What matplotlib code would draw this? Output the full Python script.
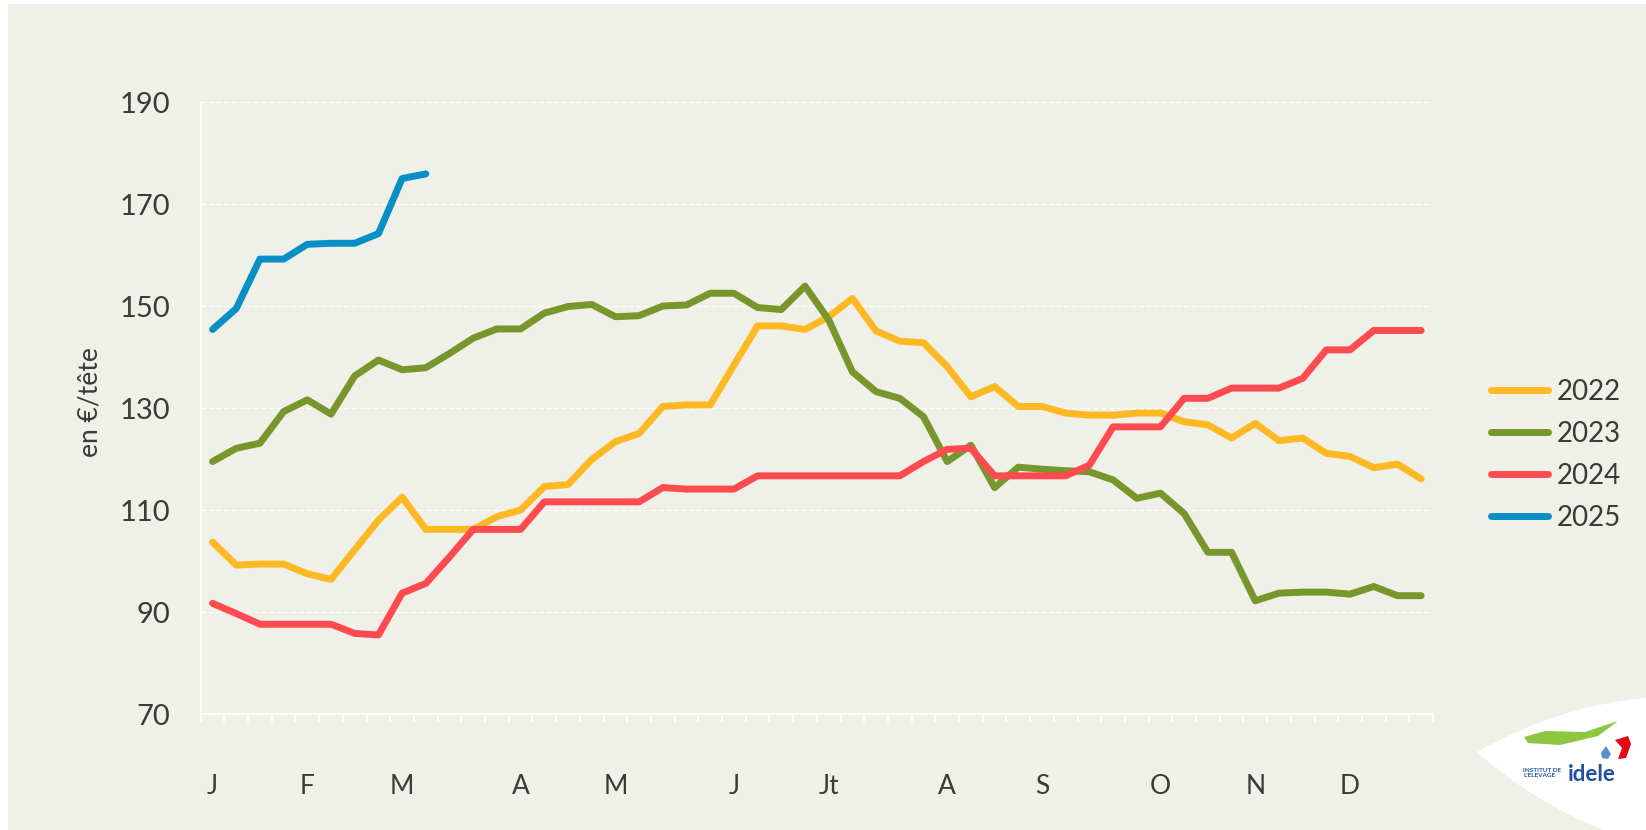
import matplotlib.pyplot as plt
from matplotlib.patches import Rectangle, PathPatch, Polygon
from matplotlib.path import Path

# weekly prices, en €/tête (52 weeks)
weeks = list(range(52))
y2022 = [103.7, 99.2, 99.4, 99.4, 97.5, 96.4, 102.2, 108.0, 112.5, 106.2,
         106.2, 106.2, 108.7, 110.0, 114.6, 115.0, 119.9, 123.4, 125.0, 130.3,
         130.6, 130.6, 138.4, 146.1, 146.1, 145.4, 147.9, 151.5, 145.1, 143.1,
         142.8, 138.1, 132.2, 134.2, 130.3, 130.3, 129.0, 128.6, 128.6, 129.0,
         129.0, 127.3, 126.7, 124.1, 127.0, 123.6, 124.1, 121.1, 120.5, 118.3,
         119.0, 116.1]
y2023 = [119.5, 122.1, 123.1, 129.3, 131.6, 128.8, 136.3, 139.4, 137.5, 137.9,
         140.7, 143.7, 145.5, 145.5, 148.6, 149.9, 150.3, 147.9, 148.1, 150.0,
         150.2, 152.5, 152.5, 149.7, 149.3, 153.9, 147.3, 137.1, 133.2, 131.9,
         128.3, 119.5, 122.7, 114.4, 118.4, 118.0, 117.7, 117.5, 115.9, 112.3,
         113.3, 109.3, 101.7, 101.7, 92.2, 93.7, 93.9, 93.9, 93.5, 95.0,
         93.2, 93.2]
y2024 = [91.7, 89.7, 87.6, 87.6, 87.6, 87.6, 85.8, 85.5, 93.7, 95.6,
         100.8, 106.2, 106.2, 106.2, 111.6, 111.6, 111.6, 111.6, 111.6, 114.4,
         114.1, 114.1, 114.1, 116.7, 116.7, 116.7, 116.7, 116.7, 116.7, 116.7,
         119.5, 121.9, 122.1, 116.7, 116.7, 116.7, 116.7, 118.8, 126.3, 126.3,
         126.3, 131.9, 131.9, 133.9, 133.9, 133.9, 135.8, 141.4, 141.4, 145.2,
         145.2, 145.2]
y2025 = [145.4, 149.5, 159.2, 159.2, 162.1, 162.3, 162.3, 164.2, 175.0, 175.9]

series = ["2022", "2023", "2024", "2025"]
colors = ["#FDB924", "#77962B", "#FF4B4F", "#078FC6"]

month_pos = [0, 4, 8, 13, 17, 22, 26, 31, 35, 40, 44, 48]
month_labels = ["J", "F", "M", "A", "M", "J", "Jt", "A", "S", "O", "N", "D"]
y_ticks = [70, 90, 110, 130, 150, 170, 190]

plt.rcParams["font.family"] = ["Lato", "DejaVu Sans"]
bg = "#EFF0E7"
txt = "#3A3A3A"

fig = plt.figure(figsize=(16.46, 8.30), dpi=100, facecolor="white")
fig.patches.append(Rectangle((8 / 1646, 0), 1, 1 - 4 / 830, transform=fig.transFigure,
                             facecolor=bg, edgecolor="none", zorder=-10))

ax = fig.add_axes([200.7 / 1646, 1 - 714 / 830, (1433 - 200.7) / 1646, 612 / 830])
ax.set_facecolor("none")

for vals, name, col in zip([y2022, y2023, y2024, y2025], series, colors):
    ax.plot(weeks[:len(vals)], vals, color=col, lw=5, label=name,
            solid_capstyle="round", solid_joinstyle="round", zorder=3)

ax.set_xlim(-0.5, 51.5)
ax.set_ylim(70, 190)
ax.set_yticks(y_ticks)
ax.tick_params(axis="y", length=0, pad=22, labelsize=21, labelcolor=txt)

ax.set_xticks(month_pos)
ax.set_xticklabels(month_labels)
ax.set_xticks([k - 0.5 for k in range(53)], minor=True)
ax.tick_params(axis="x", which="major", length=0, pad=43, labelsize=19, labelcolor=txt)
ax.tick_params(axis="x", which="minor", length=6, width=1.3, color="white")

for v in y_ticks[1:]:
    ax.axhline(v, color="white", lw=0.9, ls=(0, (4, 2)), zorder=1)

for s in ["top", "right"]:
    ax.spines[s].set_visible(False)
for s in ["left", "bottom"]:
    ax.spines[s].set_color("white")
    ax.spines[s].set_linewidth(1.3)

ax.set_ylabel("en €/tête", fontsize=19, color=txt)
ax.yaxis.set_label_coords(-0.080, 0.51)

ax.legend(loc="center left", bbox_to_anchor=(1491 / 1646, 1 - 455 / 830),
          bbox_transform=fig.transFigure, frameon=False, fontsize=20,
          handlelength=2.05, handletextpad=0.3, labelspacing=0.58,
          borderpad=0, borderaxespad=0, labelcolor=txt)


# logo (bottom right)
def fx(x):
    return x / 1646


def fy(y):
    return 1 - y / 830


verts = [(fx(1477), fy(752)), (fx(1560), fy(705)), (fx(1646), fy(698)),
         (fx(1646), fy(830)), (fx(1603), fy(830)), (fx(1530), fy(800)),
         (fx(1477), fy(752))]
codes = [Path.MOVETO, Path.CURVE3, Path.CURVE3, Path.LINETO, Path.LINETO,
         Path.CURVE3, Path.CURVE3]
fig.patches.append(PathPatch(Path(verts, codes), transform=fig.transFigure,
                             facecolor="white", edgecolor="none", zorder=1))
leaf = [(1524, 737), (1545, 731), (1585, 732), (1618, 721), (1598, 736),
        (1560, 745), (1528, 743)]
fig.patches.append(Polygon([(fx(a), fy(b)) for a, b in leaf], closed=True,
                           transform=fig.transFigure, facecolor="#8DC63F",
                           edgecolor="none", zorder=2))
flag = [(1615, 740), (1628, 736), (1631, 744), (1626, 758), (1618, 759), (1622, 748)]
fig.patches.append(Polygon([(fx(a), fy(b)) for a, b in flag], closed=True,
                           transform=fig.transFigure, facecolor="#E30613",
                           edgecolor="none", zorder=2))
drop = [(1606, 746), (1611, 754), (1608, 759), (1602, 758), (1601, 753)]
fig.patches.append(Polygon([(fx(a), fy(b)) for a, b in drop], closed=True,
                           transform=fig.transFigure, facecolor="#5B8FC9",
                           edgecolor="none", zorder=2))
fig.text(fx(1523), fy(773), "INSTITUT DE\nL'ELEVAGE", fontsize=4.6, color="#1E4FA0",
         fontweight="bold", va="center", ha="left", linespacing=1.0)
fig.text(fx(1568), fy(774), "idele", fontsize=16, color="#1E4FA0",
         fontweight="bold", va="center", ha="left")

fig.savefig("out.png", dpi=100, facecolor="white")
